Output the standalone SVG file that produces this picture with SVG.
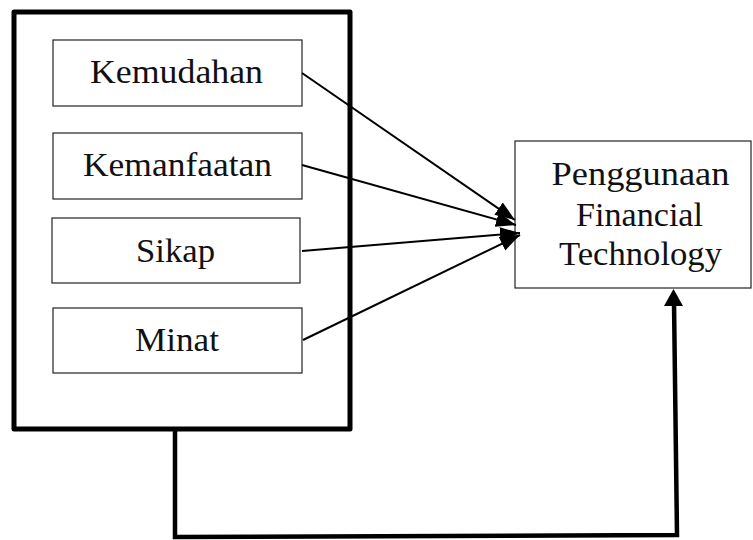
<svg xmlns="http://www.w3.org/2000/svg" width="753" height="540" viewBox="0 0 753 540">
<style>
.box{fill:#fff;stroke:#222;stroke-width:1.2}
.outer{fill:#fff;stroke:#000;stroke-width:5;stroke-linejoin:round}
.t{font-family:"Liberation Serif","Times New Roman",serif;font-size:33px;fill:#111;text-anchor:middle}
.ln{stroke:#000;stroke-width:2;fill:none}
.thick{stroke:#000;stroke-width:4.5;fill:none;stroke-linejoin:miter}
</style>
<defs>
<marker id="ah" markerUnits="userSpaceOnUse" markerWidth="22" markerHeight="16" refX="20" refY="7.5" orient="auto" viewBox="0 0 22 16">
<path d="M0,0 L20,7.5 L0,15 z" fill="#000"/>
</marker>
</defs>
<g id="group-box">
<rect class="outer" x="14" y="12" width="336" height="417"/>
</g>
<g id="kemudahan">
<rect class="box" x="53" y="40" width="249" height="66"/>
<text class="t" x="176.5" y="83" textLength="173" lengthAdjust="spacingAndGlyphs">Kemudahan</text>
</g>
<g id="kemanfaatan">
<rect class="box" x="53" y="133" width="249" height="66"/>
<text class="t" x="177.5" y="176" textLength="189" lengthAdjust="spacingAndGlyphs">Kemanfaatan</text>
</g>
<g id="sikap">
<rect class="box" x="52" y="218" width="248" height="65"/>
<text class="t" x="175.5" y="262" textLength="79" lengthAdjust="spacingAndGlyphs">Sikap</text>
</g>
<g id="minat">
<rect class="box" x="53" y="308" width="249" height="65"/>
<text class="t" x="177" y="351" textLength="84" lengthAdjust="spacingAndGlyphs">Minat</text>
</g>
<g id="penggunaan">
<rect class="box" x="515" y="141" width="236" height="147"/>
<text class="t" x="640.5" y="185" textLength="178" lengthAdjust="spacingAndGlyphs">Penggunaan</text>
<text class="t" x="639.5" y="226" textLength="127" lengthAdjust="spacingAndGlyphs">Financial</text>
<text class="t" x="640.5" y="265" textLength="163" lengthAdjust="spacingAndGlyphs">Technology</text>
</g>
<g id="connectors">
<line class="ln" x1="302" y1="73" x2="515" y2="220" marker-end="url(#ah)"/>
<line class="ln" x1="302" y1="165" x2="516" y2="225" marker-end="url(#ah)"/>
<line class="ln" x1="302" y1="251" x2="520" y2="233" marker-end="url(#ah)"/>
<line class="ln" x1="303" y1="340" x2="520" y2="235" marker-end="url(#ah)"/>
<polyline class="thick" points="175,430 175,537 677,535 674,302"/>
<path d="M664,306 L673.5,289 L683,306 z" fill="#000"/>
</g>
</svg>
